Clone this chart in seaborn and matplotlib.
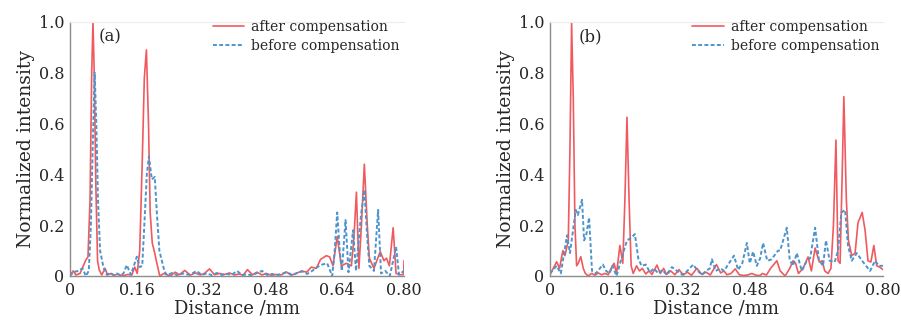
import numpy as np
import pandas as pd
import matplotlib
matplotlib.use("Agg")
import matplotlib.pyplot as plt
import seaborn as sns

# ---- data ----
# panel (a)
a_after_x = [0, 0.008, 0.014, 0.024, 0.031, 0.038, 0.043, 0.048, 0.052, 0.055, 0.058, 0.062, 0.066, 0.07,
             0.076, 0.084, 0.09, 0.098, 0.106, 0.114, 0.122, 0.13, 0.138, 0.148, 0.155, 0.161, 0.167, 0.173,
             0.178, 0.183, 0.188, 0.192, 0.197, 0.203, 0.208, 0.215, 0.225, 0.24, 0.252, 0.262, 0.275, 0.288,
             0.30, 0.312, 0.322, 0.334, 0.346, 0.358, 0.37, 0.382, 0.394, 0.405, 0.415, 0.425, 0.437, 0.448,
             0.46, 0.47, 0.482, 0.494, 0.506, 0.518, 0.53, 0.542, 0.555, 0.567, 0.578, 0.59, 0.60, 0.614,
             0.622, 0.63, 0.64, 0.65, 0.662, 0.674, 0.68, 0.686, 0.692, 0.698, 0.705, 0.712, 0.717, 0.728,
             0.743, 0.752, 0.758, 0.765, 0.774, 0.781, 0.79, 0.799, 0.80]
a_after_y = [0.004, 0.02, 0.004, 0.01, 0.037, 0.063, 0.075, 0.3, 0.8, 1.0, 0.8, 0.35, 0.06, 0.024,
             0.004, 0.03, 0.004, 0.01, 0.002, 0.008, 0.003, 0.002, 0.006, 0.004, 0.035, 0.01, 0.1, 0.45,
             0.78, 0.89, 0.6, 0.25, 0.13, 0.09, 0.05, 0.0, 0.01, 0.0, 0.015, 0.005, 0.022, 0.003,
             0.012, 0.004, 0.01, 0.028, 0.005, 0.01, 0.006, 0.012, 0.004, 0.008, 0.003, 0.025, 0.005, 0.015,
             0.004, 0.01, 0.003, 0.006, 0.004, 0.016, 0.003, 0.01, 0.02, 0.015, 0.035, 0.03, 0.065, 0.08,
             0.075, 0.04, 0.155, 0.04, 0.05, 0.04, 0.15, 0.33, 0.03, 0.2, 0.44, 0.2, 0.07, 0.03,
             0.096, 0.06, 0.07, 0.04, 0.19, 0.01, 0.005, 0.005, 0.06]

a_before_x = [0, 0.008, 0.019, 0.03, 0.038, 0.045, 0.05, 0.055, 0.059, 0.063, 0.067, 0.072, 0.08, 0.088,
              0.096, 0.104, 0.112, 0.12, 0.128, 0.136, 0.146, 0.16, 0.167, 0.173, 0.178, 0.184, 0.189, 0.196,
              0.203, 0.208, 0.214, 0.22, 0.226, 0.232, 0.245, 0.258, 0.27, 0.283, 0.295, 0.303, 0.315, 0.328,
              0.34, 0.352, 0.364, 0.376, 0.388, 0.40, 0.412, 0.424, 0.436, 0.448, 0.46, 0.472, 0.484, 0.496,
              0.508, 0.52, 0.532, 0.544, 0.556, 0.568, 0.58, 0.592, 0.604, 0.616, 0.628, 0.634, 0.64, 0.646,
              0.651, 0.66, 0.667, 0.678, 0.685, 0.697, 0.705, 0.712, 0.717, 0.728, 0.738, 0.745, 0.755, 0.766,
              0.781, 0.788, 0.80]
a_before_y = [0.0, 0.015, 0.02, 0.03, 0.0, 0.02, 0.2, 0.55, 0.80, 0.6, 0.3, 0.1, 0.035, 0.005,
              0.012, 0.004, 0.01, 0.002, 0.01, 0.043, 0.005, 0.076, 0.035, 0.04, 0.2, 0.4, 0.47, 0.38,
              0.39, 0.25, 0.1, 0.06, 0.02, 0.003, 0.012, 0.002, 0.01, 0.005, 0.012, 0.02, 0.005, 0.01,
              0.003, 0.012, 0.004, 0.008, 0.005, 0.02, 0.004, 0.006, 0.003, 0.012, 0.02, 0.004, 0.008, 0.003,
              0.01, 0.015, 0.004, 0.012, 0.018, 0.008, 0.02, 0.035, 0.045, 0.05, 0.0, 0.1, 0.25, 0.1,
              0.02, 0.22, 0.015, 0.18, 0.02, 0.24, 0.34, 0.15, 0.04, 0.02, 0.26, 0.01, 0.02, 0.0,
              0.115, 0.005, 0.02]

# panel (b)
b_after_x = [0.0, 0.008, 0.016, 0.023, 0.031, 0.036, 0.044, 0.048, 0.052, 0.056, 0.060, 0.064, 0.068, 0.074,
             0.08, 0.085, 0.092, 0.10, 0.108, 0.116, 0.124, 0.132, 0.14, 0.147, 0.154, 0.16, 0.168, 0.175,
             0.180, 0.185, 0.19, 0.195, 0.20, 0.208, 0.215, 0.222, 0.23, 0.238, 0.245, 0.257, 0.265, 0.273,
             0.28, 0.29, 0.3, 0.31, 0.32, 0.33, 0.34, 0.353, 0.365, 0.375, 0.385, 0.40, 0.41, 0.418,
             0.425, 0.435, 0.445, 0.455, 0.465, 0.475, 0.485, 0.495, 0.505, 0.51, 0.52, 0.53, 0.545, 0.553,
             0.565, 0.576, 0.584, 0.59, 0.597, 0.608, 0.62, 0.628, 0.637, 0.647, 0.654, 0.66, 0.668, 0.675,
             0.681, 0.687, 0.692, 0.697, 0.702, 0.706, 0.712, 0.717, 0.725, 0.733, 0.74, 0.75, 0.757, 0.764,
             0.771, 0.778, 0.785, 0.792, 0.80]
b_after_y = [0.005, 0.03, 0.056, 0.03, 0.10, 0.08, 0.14, 0.5, 0.995, 0.7, 0.2, 0.04, 0.05, 0.076,
             0.03, 0.01, 0.0, 0.01, 0.003, 0.012, 0.005, 0.01, 0.005, 0.03, 0.05, 0.01, 0.12, 0.05,
             0.3, 0.625, 0.3, 0.04, 0.01, 0.04, 0.02, 0.03, 0.008, 0.02, 0.006, 0.043, 0.01, 0.03,
             0.006, 0.02, 0.005, 0.025, 0.004, 0.015, 0.003, 0.03, 0.006, 0.015, 0.004, 0.045, 0.012, 0.02,
             0.005, 0.01, 0.028, 0.005, 0.002, 0.004, 0.01, 0.003, 0.002, 0.01, 0.004, 0.03, 0.06, 0.02,
             0.0, 0.03, 0.06, 0.05, 0.01, 0.03, 0.075, 0.02, 0.11, 0.055, 0.06, 0.02, 0.01, 0.03,
             0.2, 0.535, 0.06, 0.05, 0.4, 0.706, 0.3, 0.14, 0.08, 0.09, 0.21, 0.25, 0.18, 0.06,
             0.055, 0.12, 0.04, 0.035, 0.025]

b_before_x = [0.0, 0.016, 0.026, 0.041, 0.048, 0.062, 0.067, 0.077, 0.082, 0.087, 0.094, 0.101, 0.11, 0.12,
              0.127, 0.135, 0.143, 0.15, 0.16, 0.17, 0.185, 0.195, 0.204, 0.212, 0.22, 0.23, 0.24, 0.25,
              0.26, 0.27, 0.28, 0.293, 0.305, 0.318, 0.33, 0.344, 0.355, 0.365, 0.375, 0.384, 0.389, 0.398,
              0.41, 0.418, 0.426, 0.442, 0.452, 0.462, 0.473, 0.48, 0.488, 0.497, 0.505, 0.512, 0.522, 0.532,
              0.548, 0.553, 0.569, 0.576, 0.584, 0.593, 0.605, 0.617, 0.625, 0.637, 0.646, 0.656, 0.663, 0.672,
              0.684, 0.692, 0.70, 0.709, 0.716, 0.725, 0.737, 0.752, 0.769, 0.781, 0.79, 0.80]
b_before_y = [0.01, 0.04, 0.01, 0.16, 0.09, 0.26, 0.24, 0.30, 0.14, 0.16, 0.23, 0.02, 0.01, 0.03,
              0.045, 0.02, 0.01, 0.04, 0.0, 0.06, 0.14, 0.15, 0.165, 0.07, 0.04, 0.045, 0.015, 0.03,
              0.01, 0.024, 0.005, 0.035, 0.02, 0.005, 0.02, 0.045, 0.02, 0.005, 0.02, 0.03, 0.066, 0.02,
              0.03, 0.02, 0.04, 0.08, 0.024, 0.05, 0.13, 0.05, 0.096, 0.04, 0.07, 0.13, 0.06, 0.065,
              0.1, 0.1, 0.19, 0.063, 0.04, 0.09, 0.02, 0.06, 0.07, 0.19, 0.063, 0.04, 0.14, 0.06,
              0.055, 0.1, 0.25, 0.26, 0.12, 0.06, 0.09, 0.055, 0.02, 0.06, 0.04, 0.04]

x_ticks = [0, 0.16, 0.32, 0.48, 0.64, 0.80]
x_ticklabels = ["0", "0.16", "0.32", "0.48", "0.64", "0.80"]
y_ticks = [0, 0.2, 0.4, 0.6, 0.8, 1.0]
y_ticklabels = ["0", "0.2", "0.4", "0.6", "0.8", "1.0"]

panels = [("(a)", a_after_x, a_after_y, a_before_x, a_before_y),
          ("(b)", b_after_x, b_after_y, b_before_x, b_before_y)]

sns.set_style("white")
plt.rcParams["font.family"] = ["DejaVu Serif"]

RED = "#f05a5f"
BLUE = "#4d94cc"
GRAY = "#8c8c8c"

fig = plt.figure(figsize=(9.01, 3.27), dpi=100)
positions = [[0.0777, 0.156, 0.3707, 0.777], [0.6104, 0.156, 0.3696, 0.777]]

for pos, (tag, ax_x, ax_y, bx_x, bx_y) in zip(positions, panels):
    ax = fig.add_axes(pos)
    df_after = pd.DataFrame({"x": ax_x, "y": ax_y})
    df_before = pd.DataFrame({"x": bx_x, "y": bx_y})
    sns.lineplot(data=df_after, x="x", y="y", ax=ax, color=RED, linewidth=1.2,
                 label="after compensation", estimator=None, sort=False)
    sns.lineplot(data=df_before, x="x", y="y", ax=ax, color=BLUE, linewidth=1.4,
                 linestyle=(0, (2.0, 1.2)), label="before compensation", estimator=None, sort=False)

    ax.set_xlim(0, 0.80)
    ax.set_ylim(0, 1.0)
    ax.set_xticks(x_ticks)
    ax.set_xticklabels(x_ticklabels)
    ax.set_xticks(np.arange(0.08, 0.8, 0.16), minor=True)
    ax.set_yticks(y_ticks)
    ax.set_yticklabels(y_ticklabels)
    ax.tick_params(axis="both", which="both", direction="in", length=3, color=GRAY,
                   labelsize=11.5, pad=4)
    ax.tick_params(axis="both", which="minor", length=3)

    ax.spines["right"].set_visible(False)
    ax.spines["top"].set_color("#ececec")
    ax.spines["top"].set_linewidth(0.8)
    for side in ["left", "bottom"]:
        ax.spines[side].set_color(GRAY)
        ax.spines[side].set_linewidth(1.0)

    ax.set_xlabel("Distance /mm", fontsize=13, labelpad=1)
    ax.set_ylabel("Normalized intensity", fontsize=13.5, labelpad=3)
    ax.text(0.085, 0.94, tag, transform=ax.transAxes, fontsize=12, va="center", ha="left")

    ax.legend(loc="upper left", bbox_to_anchor=(0.41, 1.03), frameon=False, fontsize=10,
              handlelength=2.3, handletextpad=0.5, labelspacing=0.35, borderaxespad=0)

fig.savefig("out.png", dpi=100)
